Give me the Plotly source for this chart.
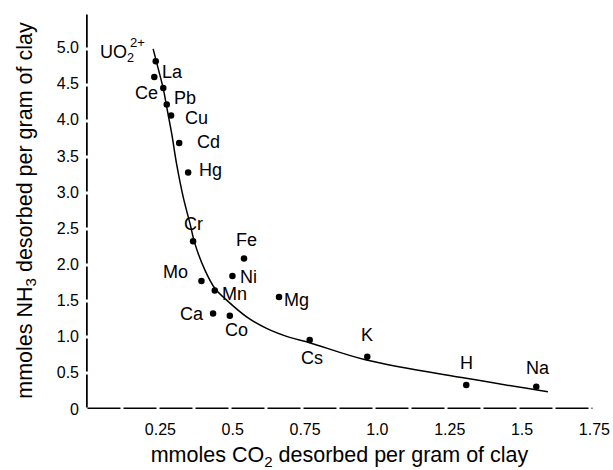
import plotly.graph_objects as go

# ---- data ----
elements = ["UO<sub>2</sub>", "La", "Ce", "Pb", "Cu", "Cd", "Hg", "Cr", "Fe", "Ni",
            "Mo", "Mn", "Mg", "Ca", "Co", "Cs", "K", "H", "Na"]
charges = ["2+"] + [""] * 18
co2 = [0.241, 0.236, 0.267, 0.279, 0.294, 0.322, 0.353, 0.370, 0.546, 0.506,
       0.399, 0.445, 0.667, 0.439, 0.497, 0.773, 0.972, 1.314, 1.556]
nh3 = [4.81, 4.59, 4.44, 4.21, 4.06, 3.68, 3.27, 2.32, 2.08, 1.84,
       1.77, 1.64, 1.55, 1.32, 1.29, 0.953, 0.722, 0.331, 0.308]

curve_x = [0.232, 0.250, 0.267, 0.279, 0.296, 0.313, 0.336, 0.359, 0.376, 0.411,
           0.445, 0.486, 0.555, 0.624, 0.704, 0.773, 0.969, 1.314, 1.596]
curve_y = [4.98, 4.70, 4.43, 4.175, 3.81, 3.39, 2.93, 2.57, 2.29, 1.92,
           1.67, 1.506, 1.275, 1.115, 0.99, 0.916, 0.677, 0.424, 0.239]

x_tickvals = [0.25, 0.5, 0.75, 1.0, 1.25, 1.5, 1.75]
x_ticktext = ["0.25", "0.5", "0.75", "1.0", "1.25", "1.5", "1.75"]
y_tickvals = [0, 0.5, 1.0, 1.5, 2.0, 2.5, 3.0, 3.5, 4.0, 4.5, 5.0]
y_ticktext = ["0", "0.5", "1.0", "1.5", "2.0", "2.5", "3.0", "3.5", "4.0", "4.5", "5.0"]

# label pixel offsets (styling)
label_dx = [-20, 18, -17, 18, 25, 29, 22, 0, 2, 16, -26, 20, 17, -21, 7, 2, 0, 0, 2]
label_dy = [8, 5, -5, 7, -3, 1, 3, 17, 19, -1, 9, -4, -3, 0, -14, -18, 22, 22, 19]
label_anchor = ["right"] + ["center"] * 18

FONT = "Liberation Sans, Arial, sans-serif"
X_MAX = 1.752

fig = go.Figure()
fig.add_trace(go.Scatter(x=curve_x, y=curve_y, mode="lines", line=dict(color="black", width=1.5, shape="spline"),
                         hoverinfo="skip", showlegend=False))
fig.add_trace(go.Scatter(x=co2, y=nh3, mode="markers", marker=dict(color="black", size=6.5),
                         showlegend=False))

for i, name in enumerate(elements):
    fig.add_annotation(x=co2[i], y=nh3[i], text=name, showarrow=False,
                       xanchor=label_anchor[i], yanchor="middle",
                       xshift=label_dx[i], yshift=label_dy[i],
                       font=dict(family=FONT, size=18, color="black"))
    if charges[i]:
        fig.add_annotation(x=co2[i], y=nh3[i], text=charges[i], showarrow=False,
                           xanchor="left", yanchor="middle", xshift=-28, yshift=19,
                           font=dict(family=FONT, size=13, color="black"))

# dashed-looking axes
fig.add_shape(type="line", xref="x", yref="y", x0=0, x1=1.75, y0=0, y1=0,
              line=dict(color="black", width=3, dash="0px,1.5px,33px,1.5px"))
fig.add_shape(type="line", xref="x", yref="y", x0=0, x1=0, y0=0, y1=5.49,
              line=dict(color="black", width=3.5, dash="0px,1.5px,33px,1.5px"))

fig.update_layout(
    width=613, height=470,
    margin=dict(l=86, r=20, t=12, b=61),
    plot_bgcolor="white", paper_bgcolor="white",
    font=dict(family=FONT, color="black"),
    xaxis=dict(range=[0, X_MAX], tickvals=x_tickvals, ticktext=x_ticktext, showgrid=False,
               zeroline=False, showline=False, ticks="", ticklabelshift=2, ticklabelstandoff=9,
               tickfont=dict(size=16, family=FONT, color="black"),
               title=dict(text="mmoles CO<sub>2</sub> desorbed per gram of clay",
                          font=dict(size=21.5, family=FONT, color="black"), standoff=17),
               automargin=False),
    yaxis=dict(range=[0, 5.49], tickvals=y_tickvals, ticktext=y_ticktext, showgrid=False,
               zeroline=False, showline=False, ticks="", ticklabelstandoff=6,
               tickfont=dict(size=16, family=FONT, color="black"),
               title=dict(text="mmoles NH<sub>3</sub> desorbed per gram of clay",
                          font=dict(size=21.5, family=FONT, color="black"), standoff=18),
               automargin=False),
)

fig.write_html("out.html")
